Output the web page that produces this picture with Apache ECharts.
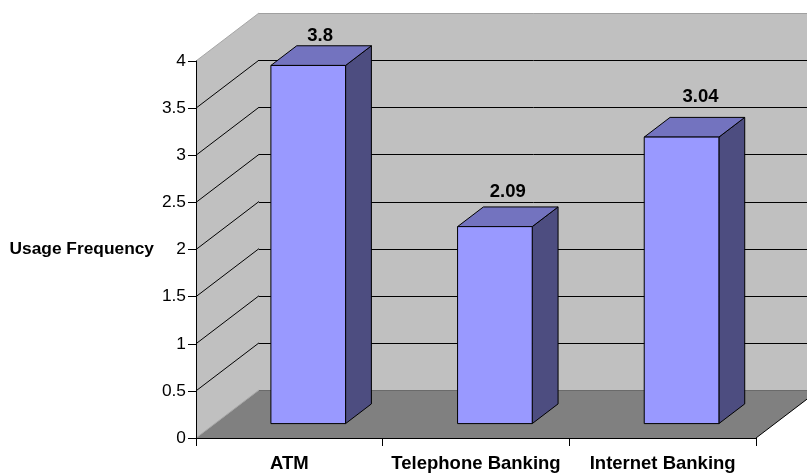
<!DOCTYPE html>
<html>
<head>
<meta charset="utf-8">
<style>html,body{margin:0;padding:0;background:#fff}#c{width:807px;height:474px}</style>
<script src="https://cdn.jsdelivr.net/npm/echarts@6/dist/echarts.min.js"></script>
</head>
<body>
<div id="c"></div>
<script>
const categories = ['ATM', 'Telephone Banking', 'Internet Banking'];
const usageValues = [3.8, 2.09, 3.04];
const yTicks = [0, 0.5, 1, 1.5, 2, 2.5, 3, 3.5, 4];
const yAxisTitle = 'Usage Frequency';

// projection and style constants
const DEPTH_X = 63, DEPTH_Y = 48;
const BAR_FRACTION = 0.4, BAR_NEAR = 0.3, BAR_FAR = 0.71;
const labelNudge = [[-1, -10], [0, -15], [6, -20]];
const FONT_SIZE = 17.33, CATEGORY_FONT_SIZE = 18.5, VALUE_FONT_SIZE = 18.5;
const FONT_FAMILY = '"Liberation Sans", Arial, sans-serif';
const snap = v => Math.round(v) + 0.5;

const chart = echarts.init(document.getElementById('c'), null, {renderer: 'canvas'});

function poly(points, fill, stroke, lineWidth) {
  return {type: 'polygon', shape: {points}, style: {fill, stroke: stroke || null, lineWidth: lineWidth || 1}};
}
function line(x1, y1, x2, y2, stroke) {
  return {type: 'line', shape: {x1, y1, x2, y2}, style: {stroke, lineWidth: 1}};
}

function renderWalls(params, api) {
  const band = api.size([1, 0])[0];
  const left = api.coord([0, 0])[0] - band / 2;
  const right = left + band * categories.length;
  const yTop = api.coord([0, yTicks[yTicks.length - 1]])[1];
  const yZero = api.coord([0, 0])[1];
  const children = [
    poly([[left, yTop], [left + DEPTH_X, yTop - DEPTH_Y], [left + DEPTH_X, yZero - DEPTH_Y], [left, yZero]], '#c0c0c0'),
    poly([[left + DEPTH_X, yTop - DEPTH_Y], [right + DEPTH_X, yTop - DEPTH_Y], [right + DEPTH_X, yZero - DEPTH_Y], [left + DEPTH_X, yZero - DEPTH_Y]], '#c0c0c0'),
    poly([[left, yZero], [right, yZero], [right + DEPTH_X, yZero - DEPTH_Y], [left + DEPTH_X, yZero - DEPTH_Y]], '#808080'),
    line(left, yTop, left + DEPTH_X, yTop - DEPTH_Y, '#a6a6a6'),
    line(left + DEPTH_X, snap(yTop - DEPTH_Y), right + DEPTH_X, snap(yTop - DEPTH_Y), '#a0a0a0'),
    line(left, yZero, left + DEPTH_X, yZero - DEPTH_Y, '#a6a6a6'),
    line(left + DEPTH_X, snap(yZero - DEPTH_Y), right + DEPTH_X, snap(yZero - DEPTH_Y), '#6a6a6a'),
    line(right, yZero, right + DEPTH_X, yZero - DEPTH_Y, '#000')
  ];
  yTicks.forEach(t => {
    if (t === yTicks[0] || t === yTicks[yTicks.length - 1]) return;
    const y = api.coord([0, t])[1];
    children.push(line(left, y, left + DEPTH_X, y - DEPTH_Y, '#000'));
    children.push(line(left + DEPTH_X, snap(y - DEPTH_Y), right + DEPTH_X, snap(y - DEPTH_Y), '#000'));
  });
  return {type: 'group', children};
}

function renderBar(params, api) {
  const idx = api.value(0), val = api.value(1);
  const band = api.size([1, 0])[0];
  const c = api.coord([idx, 0]);
  const top = api.coord([idx, val])[1];
  const w = band * BAR_FRACTION;
  const nx = DEPTH_X * BAR_NEAR, ny = DEPTH_Y * BAR_NEAR;
  const fx = DEPTH_X * (BAR_FAR - BAR_NEAR), fy = DEPTH_Y * (BAR_FAR - BAR_NEAR);
  const x0 = c[0] - w / 2 + nx, x1 = x0 + w;
  const yB = c[1] - ny, yT = top - ny;
  const nudge = labelNudge[idx];
  return {type: 'group', children: [
    poly([[x1, yT], [x1 + fx, yT - fy], [x1 + fx, yB - fy], [x1, yB]], '#4d4d80', '#000'),
    poly([[x0, yT], [x0 + fx, yT - fy], [x1 + fx, yT - fy], [x1, yT]], '#7373bf', '#000'),
    poly([[x0, yT], [x1, yT], [x1, yB], [x0, yB]], '#9999ff', '#000'),
    {type: 'text', style: {
      x: (x0 + x1 + fx) / 2 + nudge[0], y: yT - fy + nudge[1],
      text: String(val), fill: '#000', align: 'center', verticalAlign: 'middle',
      font: 'bold ' + VALUE_FONT_SIZE + 'px ' + FONT_FAMILY
    }}
  ]};
}

chart.setOption({
  animation: false,
  backgroundColor: '#fff',
  grid: {left: 196, right: 51, top: 61, bottom: 36, containLabel: false},
  xAxis: {
    type: 'category', z: 5, data: categories,
    axisLine: {lineStyle: {color: '#000', width: 1}},
    axisTick: {show: true, length: 8, alignWithLabel: false, lineStyle: {color: '#000'}},
    axisLabel: {color: '#000', fontFamily: FONT_FAMILY, fontSize: CATEGORY_FONT_SIZE, fontWeight: 'bold', margin: 16, interval: 0, hideOverlap: false},
    splitLine: {show: false}
  },
  yAxis: {
    type: 'value', min: 0, max: 4, interval: 0.5, z: 5,
    name: yAxisTitle, nameLocation: 'middle', nameRotate: 0, nameGap: 42,
    nameTextStyle: {color: '#000', fontFamily: FONT_FAMILY, fontSize: FONT_SIZE, fontWeight: 'bold', align: 'right', verticalAlign: 'middle', padding: [3, 0, 0, 0]},
    axisLine: {show: true, lineStyle: {color: '#000', width: 1}},
    axisTick: {show: true, length: 8, lineStyle: {color: '#000'}},
    axisLabel: {color: '#000', fontFamily: FONT_FAMILY, fontSize: FONT_SIZE, margin: 10},
    splitLine: {show: false}
  },
  series: [
    {type: 'custom', silent: true, z: 1, renderItem: renderWalls, data: [[0, 0]], clip: false, encode: {x: 0, y: 1}},
    {type: 'custom', silent: true, z: 2, renderItem: renderBar, data: usageValues.map((v, i) => [i, v]), clip: false, encode: {x: 0, y: 1}}
  ]
});
</script>
</body>
</html>
